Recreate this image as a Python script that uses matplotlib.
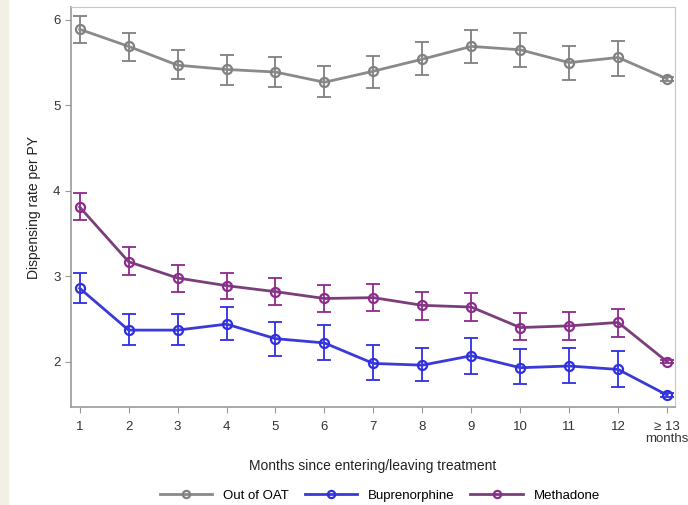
import matplotlib
matplotlib.use('Agg')
import matplotlib.pyplot as plt
from matplotlib.patches import Rectangle

plt.rcParams['font.family'] = ['Liberation Sans', 'DejaVu Sans']

# Months since entering/leaving treatment
months = [1, 2, 3, 4, 5, 6, 7, 8, 9, 10, 11, 12, 13]
month_labels = ['1', '2', '3', '4', '5', '6', '7', '8', '9', '10', '11', '12', '\u2265 13\nmonths']

# Out of OAT
out_rate = [5.89, 5.69, 5.47, 5.42, 5.39, 5.27, 5.40, 5.54, 5.69, 5.65, 5.50, 5.56, 5.31]
out_lo   = [5.73, 5.52, 5.31, 5.24, 5.22, 5.10, 5.20, 5.35, 5.49, 5.45, 5.30, 5.34, 5.29]
out_hi   = [6.04, 5.85, 5.65, 5.59, 5.56, 5.46, 5.58, 5.74, 5.88, 5.85, 5.70, 5.75, 5.33]

# Buprenorphine
bup_rate = [2.86, 2.37, 2.37, 2.44, 2.27, 2.22, 1.98, 1.96, 2.07, 1.93, 1.95, 1.91, 1.61]
bup_lo   = [2.69, 2.19, 2.19, 2.25, 2.07, 2.02, 1.79, 1.77, 1.86, 1.74, 1.75, 1.71, 1.59]
bup_hi   = [3.04, 2.56, 2.56, 2.64, 2.47, 2.43, 2.19, 2.16, 2.28, 2.15, 2.16, 2.13, 1.63]

# Methadone
met_rate = [3.81, 3.17, 2.98, 2.89, 2.82, 2.74, 2.75, 2.66, 2.64, 2.40, 2.42, 2.46, 2.00]
met_lo   = [3.66, 3.01, 2.82, 2.73, 2.66, 2.58, 2.59, 2.49, 2.48, 2.25, 2.25, 2.29, 1.98]
met_hi   = [3.98, 3.34, 3.13, 3.04, 2.98, 2.90, 2.91, 2.82, 2.81, 2.57, 2.58, 2.62, 2.02]

fig = plt.figure(figsize=(6.88, 5.05), dpi=100)
fig.patches.append(Rectangle((0, 0), 8 / 688, 1, transform=fig.transFigure,
                             color='#f2f0e4', zorder=0))
ax = fig.add_axes([0.103, 0.194, 0.878, 0.792])

series = [
    ('Out of OAT', out_rate, out_lo, out_hi, '#8a8a8a', '#808080'),
    ('Buprenorphine', bup_rate, bup_lo, bup_hi, '#3a3ad8', '#2f2fe0'),
    ('Methadone', met_rate, met_lo, met_hi, '#7a3f7a', '#8e2a8e'),
]
for name, rate, lo, hi, lcol, ecol in series:
    yerr = [[r - l for r, l in zip(rate, lo)], [h - r for r, h in zip(rate, hi)]]
    ax.errorbar(months, rate, yerr=yerr, fmt='none', ecolor=ecol,
                elinewidth=1.3, capsize=5, capthick=1.3, zorder=2)
    ax.plot(months, rate, color=lcol, lw=2, marker='o', ms=6.5,
            mfc='none', mec=ecol, mew=1.6, label=name, zorder=3)

ax.set_xlim(0.82, 13.16)
ax.set_ylim(1.47, 6.15)
ax.set_xticks(months)
ax.set_xticklabels(month_labels, fontsize=9.5, color='#333333', linespacing=1.0)
ax.set_yticks([2, 3, 4, 5, 6])
ax.set_yticklabels(['2', '3', '4', '5', '6'], fontsize=9.5, color='#333333')
ax.tick_params(direction='out', length=4, color='#999999')
ax.tick_params(axis='x', pad=6)

for side in ['left', 'bottom']:
    ax.spines[side].set_color('#9a9a9a')
    ax.spines[side].set_linewidth(1.2)
for side in ['top', 'right']:
    ax.spines[side].set_color('#c8c8c8')

ax.set_ylabel('Dispensing rate per PY', fontsize=10, color='#222222', labelpad=9)
fig.text(0.542, 0.070, 'Months since entering/leaving treatment', fontsize=10,
         color='#222222', ha='center')

fig.legend(loc='center', bbox_to_anchor=(0.552, 0.018), ncol=3, frameon=False,
           fontsize=9.5, handlelength=4, columnspacing=1.2, handletextpad=0.8,
           borderpad=0, markerscale=0.8)

fig.savefig('out.png', dpi=100, facecolor='white')
